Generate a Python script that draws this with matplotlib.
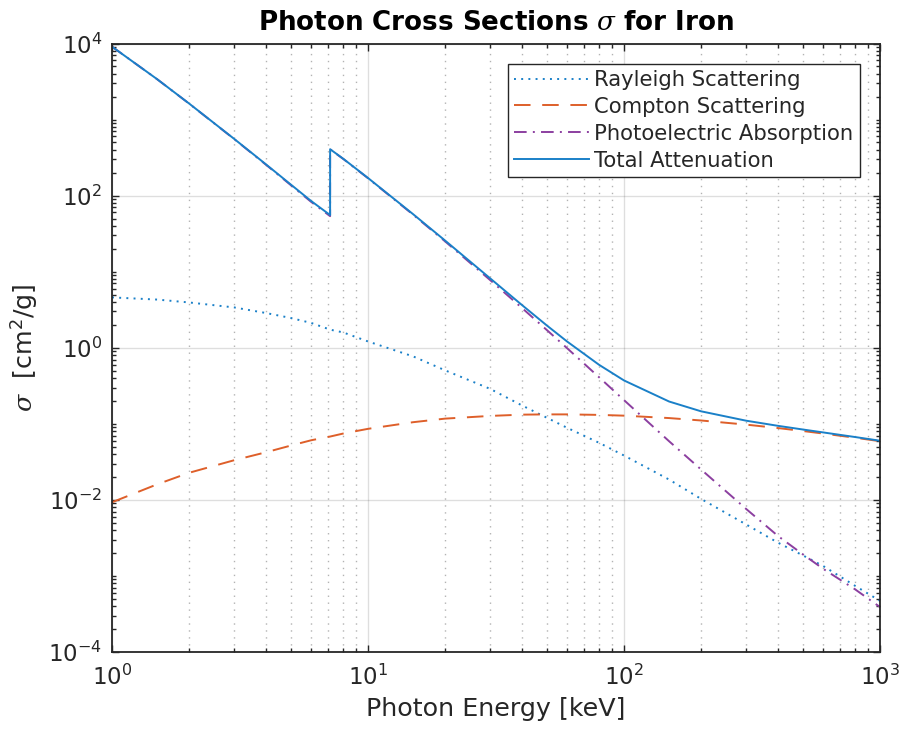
import numpy as np
import matplotlib
matplotlib.use("Agg")
import matplotlib.pyplot as plt
from matplotlib.ticker import FixedLocator, LogLocator, NullFormatter, FuncFormatter

# ---- data (energy in keV, cross sections in cm^2/g) ----
energy = [1.0, 1.5, 2.0, 3.0, 4.0, 5.0, 6.0, 7.112, 7.112, 8.0, 10.0, 15.0, 20.0,
          30.0, 40.0, 50.0, 60.0, 80.0, 100.0, 150.0, 200.0, 300.0, 400.0, 500.0,
          600.0, 800.0, 1000.0]
rayleigh = [4.59, 4.30, 3.94, 3.39, 2.86, 2.46, 2.12, 1.73, 1.73, 1.59, 1.21, 0.77,
            0.505, 0.288, 0.174, 0.120, 0.0885, 0.0562, 0.0383, 0.0185, 0.0103,
            0.00475, 0.00273, 0.00186, 0.00135, 0.00074, 0.00047]
compton = [0.0093, 0.0160, 0.0227, 0.0332, 0.0423, 0.0518, 0.0608, 0.0680, 0.0680,
           0.0745, 0.0859, 0.105, 0.117, 0.127, 0.132, 0.133, 0.133, 0.131, 0.128,
           0.119, 0.1106, 0.0976, 0.0879, 0.0804, 0.0745, 0.0656, 0.0591]
photo = [9080.0, 3395.0, 1622.0, 554.2, 253.8, 137.0, 82.66, 53.72, 405.8, 303.9,
         169.3, 56.2, 25.06, 7.76, 3.32, 1.705, 0.984, 0.408, 0.205, 0.059, 0.0251,
         0.0076, 0.00334, 0.00192, 0.00124, 0.000665, 0.00039]
total = [9085.0, 3399.0, 1626.0, 557.6, 256.7, 139.5, 84.84, 55.52, 407.6, 305.6,
         170.6, 57.08, 25.68, 8.176, 3.629, 1.958, 1.205, 0.5952, 0.3717, 0.1964,
         0.1460, 0.1099, 0.0940, 0.08414, 0.07704, 0.06699, 0.05995]
labels = ["Rayleigh Scattering", "Compton Scattering",
          "Photoelectric Absorption", "Total Attenuation"]
y_major = [1e-4, 1e-2, 1e0, 1e2, 1e4]
x_major = [1, 10, 100, 1000]

plt.rcParams['font.family'] = ['DejaVu Sans']
plt.rcParams['mathtext.fontset'] = 'custom'
plt.rcParams['mathtext.rm'] = 'DejaVu Sans'
plt.rcParams['mathtext.it'] = 'DejaVu Serif:italic'
plt.rcParams['mathtext.bf'] = 'DejaVu Sans:bold'

axc = '#262626'
fig = plt.figure(figsize=(9.04, 7.33), dpi=100)
ax = fig.add_axes([112/904, 1-652/733, (880-112)/904, (652-43.5)/733])

lw = 1.4
blue = '#1A80C8'
ax.plot(energy, rayleigh, color=blue, lw=lw, ls=(0, (1, 2.7)), label=labels[0])
ax.plot(energy, compton, color='#DE5F2A', lw=lw, ls=(0, (8.5, 6)), label=labels[1])
ax.plot(energy, photo, color='#8C3FA0', lw=lw, ls=(0, (6.5, 3.2, 1, 3.2)), label=labels[2])
ax.plot(energy, total, color=blue, lw=lw, ls='-', label=labels[3])

ax.set_xscale('log')
ax.set_yscale('log')
ax.set_xlim(1, 1000)
ax.set_ylim(1e-4, 1e4)

ax.xaxis.set_major_locator(FixedLocator(x_major))
ax.xaxis.set_minor_locator(LogLocator(base=10, subs=np.arange(2, 10), numticks=20))
ax.yaxis.set_major_locator(FixedLocator(y_major))
ax.yaxis.set_minor_locator(LogLocator(base=10, subs=np.arange(1, 10), numticks=30))
ax.xaxis.set_minor_formatter(NullFormatter())
ax.yaxis.set_minor_formatter(NullFormatter())
fmt = FuncFormatter(lambda v, p: r'$\mathdefault{10^{%d}}$' % int(round(np.log10(v))))
ax.xaxis.set_major_formatter(fmt)
ax.yaxis.set_major_formatter(fmt)

ax.tick_params(which='both', direction='in', top=True, right=True, colors=axc,
               labelsize=16.5, width=1.0)
ax.tick_params(which='major', length=5)
ax.tick_params(which='minor', length=3)
ax.tick_params(axis='x', pad=9)
ax.tick_params(axis='y', pad=7)
for s in ax.spines.values():
    s.set_color(axc)
    s.set_linewidth(1.3)

ax.grid(True, which='major', axis='both', color='#262626', alpha=0.15, lw=1.0, ls='-')
ax.grid(True, which='minor', axis='x', color='#262626', alpha=0.35, lw=1.0, ls=(0, (1, 4)))
ax.set_axisbelow(True)

ax.set_title(r'Photon Cross Sections $\sigma$ for Iron', fontsize=18.8,
             fontweight='bold', color='black', pad=10)
ax.set_xlabel('Photon Energy [keV]', fontsize=18.3, color=axc, labelpad=5)
ax.set_ylabel(r'$\sigma$  [cm$^2$/g]', fontsize=18.3, color=axc, labelpad=6)

leg = ax.legend(loc='upper right', fontsize=15.2, handlelength=3.55, handletextpad=0.25,
                borderaxespad=0.95, labelspacing=0.33, fancybox=False, framealpha=1,
                edgecolor=axc, borderpad=0.3)
leg.get_frame().set_linewidth(1.0)
for t in leg.get_texts():
    t.set_color(axc)

fig.savefig('out.png', dpi=100)
